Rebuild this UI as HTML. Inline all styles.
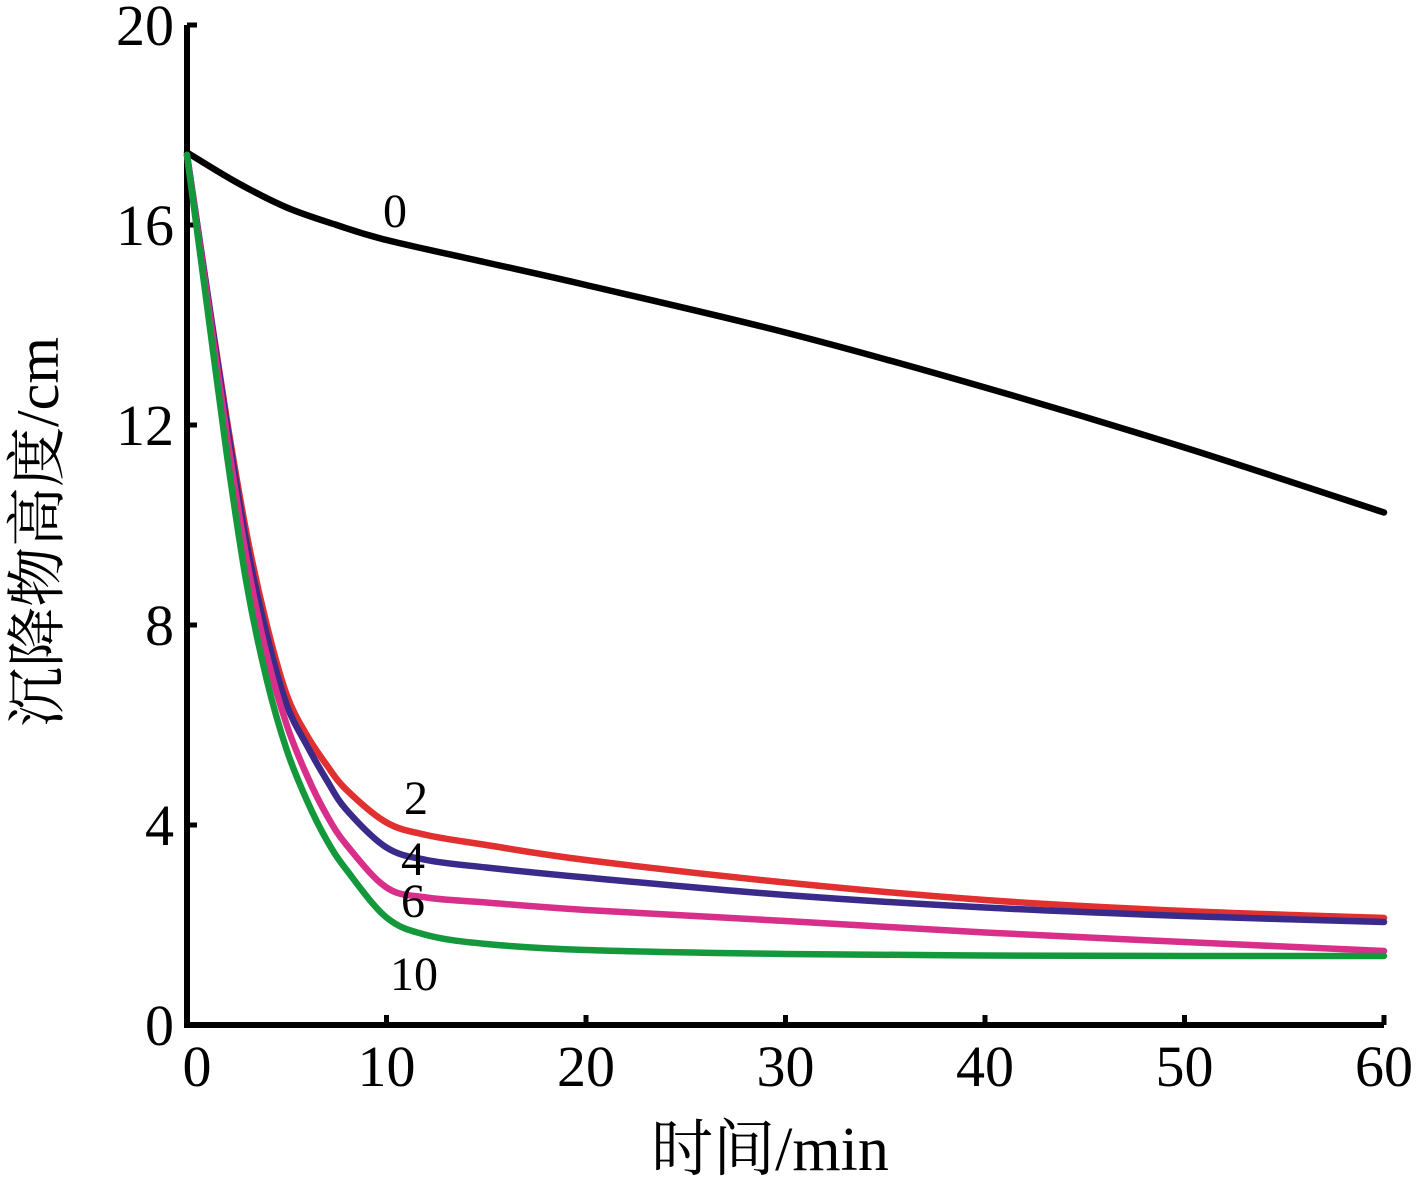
<!DOCTYPE html>
<html><head><meta charset="utf-8"><style>
body{margin:0;background:#fff}
svg text{font-family:"Liberation Serif","Noto Serif CJK SC",serif;fill:#000}
</style></head><body>
<svg width="1417" height="1181" viewBox="0 0 1417 1181">
<g id="axes"></g><g id="series"></g><g id="labels"></g>
<text transform="translate(58,532) rotate(-90)" text-anchor="middle" font-size="60">沉降物高度/cm</text>
<text x="770" y="1170" text-anchor="middle" font-size="62">时间/min</text>
</svg>
<script>
const xTicks=[0,10,20,30,40,50,60];
const yTicks=[0,4,8,12,16,20];
const tFast=[0,1,2,3,4,5,6,7,8,10,12,15,20,30,40,50,60];
const tSlow=[0,2.5,5,7.5,10,15,20,30,40,50,60];
const s0=[17.45,16.85,16.35,16.0,15.7,15.25,14.8,13.85,12.75,11.55,10.25];
const s2=[17.4,14.7,12.1,9.8,8.0,6.6,5.8,5.2,4.7,4.05,3.8,3.6,3.3,2.85,2.5,2.28,2.14];
const s4=[17.4,14.7,12.0,9.6,7.8,6.4,5.6,4.9,4.3,3.55,3.3,3.15,2.95,2.6,2.35,2.18,2.06];
const s6=[17.4,14.6,11.8,9.3,7.4,6.0,5.0,4.2,3.6,2.75,2.55,2.45,2.3,2.08,1.85,1.66,1.48];
const s10=[17.4,14.4,11.4,8.8,6.9,5.5,4.5,3.7,3.1,2.15,1.8,1.62,1.5,1.42,1.39,1.38,1.38];
const NS='http://www.w3.org/2000/svg';
const X=v=>187+v*19.95, Y=v=>1025-v*50;
function mk(tag,at,parent){const e=document.createElementNS(NS,tag);for(const k in at)e.setAttribute(k,at[k]);document.getElementById(parent).appendChild(e);return e;}
let e=mk('path',{d:`M${X(0)},${Y(20)}V${Y(0)}H${X(60)}`,fill:'none',stroke:'#000','stroke-width':6},'axes');


xTicks.forEach(v=>{
 let t=mk('line',{x1:X(v),x2:X(v),y1:Y(0),y2:Y(0)-10,stroke:'#000','stroke-width':5},'axes');
 
 
 let l=mk('text',{x:X(v)+(v===0?10:0),y:1086,'text-anchor':'middle','font-size':58},'axes');l.textContent=v;
 
 
});
yTicks.forEach(v=>{
 let t=mk('line',{x1:X(0),x2:X(0)+10,y1:Y(v),y2:Y(v),stroke:'#000','stroke-width':5},'axes');
 
 
 let l=mk('text',{x:174,y:Y(v)+20,'text-anchor':'end','font-size':58},'axes');l.textContent=v;
 
 
});
function path(ts,vs){
 const p=ts.map((t,i)=>[X(t),Y(vs[i])]);
 let d=`M${p[0][0]},${p[0][1]}`;
 for(let i=0;i<p.length-1;i++){
  const p0=p[Math.max(0,i-1)],p1=p[i],p2=p[i+1],p3=p[Math.min(p.length-1,i+2)];
  const c1=[p1[0]+(p2[0]-p0[0])/6,p1[1]+(p2[1]-p0[1])/6],c2=[p2[0]-(p3[0]-p1[0])/6,p2[1]-(p3[1]-p1[1])/6];
  d+=`C${c1[0]},${c1[1]} ${c2[0]},${c2[1]} ${p2[0]},${p2[1]}`;
 }
 return d;
}
[[tSlow,s0,'#000','series-0'],[tFast,s2,'#e03030','series-2'],[tFast,s4,'#3a2a8a','series-4'],[tFast,s6,'#d8308a','series-6'],[tFast,s10,'#14983c','series-10']].forEach(([t,v,c,n])=>{
 let p=mk('path',{d:path(t,v),fill:'none',stroke:c,'stroke-width':6.5,'stroke-linecap':'round'},'series');
 
 
});
[['0',395,227],['2',416,814],['4',413,875],['6',413,917],['10',414,990]].forEach(([s,x,y])=>{
 let l=mk('text',{x:x,y:y,'text-anchor':'middle','font-size':48},'labels');l.textContent=s;
 
 
});
</script>
</body></html>
